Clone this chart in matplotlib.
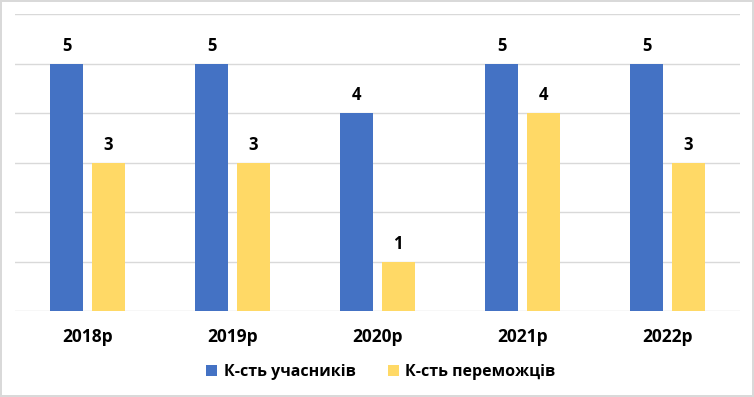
import matplotlib
matplotlib.use("Agg")
import matplotlib.pyplot as plt
import numpy as np

categories = ["2018р", "2019р", "2020р", "2021р", "2022р"]
participants = [5, 5, 4, 5, 5]
winners = [3, 3, 1, 4, 3]
series_names = ["К-сть учасників", "К-сть переможців"]

plt.rcParams['font.family'] = ['Open Sans', 'DejaVu Sans']

fig = plt.figure(figsize=(7.54, 3.97), dpi=100)
fig.patch.set_facecolor("white")
fig.patch.set_edgecolor("#D9D9D9")
fig.patch.set_linewidth(1.5)
ax = fig.add_axes([0.0199, 0.2166, 0.9615, 0.7469])

x = np.arange(len(categories))
w = 0.228
off = 0.143
b1 = ax.bar(x - off, participants, w, color="#4472C4", label=series_names[0], zorder=3)
b2 = ax.bar(x + off, winners, w, color="#FFD966", label=series_names[1], zorder=3)

for bars in (b1, b2):
    for r in bars:
        ax.annotate(f"{int(r.get_height())}", (r.get_x() + r.get_width() / 2, r.get_height()),
                    xytext=(0, 6.5), textcoords="offset points", ha="center", va="bottom",
                    fontsize=12, fontweight="bold", color="#000000")

ax.set_xlim(-0.5, len(categories) - 0.5)
ax.set_ylim(0, 6)
ax.set_yticks(range(0, 7))
ax.yaxis.grid(True, color="#D9D9D9", linewidth=1, zorder=0)
ax.tick_params(axis="y", left=False, labelleft=False)
ax.tick_params(axis="x", bottom=False, pad=9)
ax.set_xticks(x)
ax.set_xticklabels(categories, fontsize=12.5, fontweight="bold")
for s in ax.spines.values():
    s.set_visible(False)

fig.legend(handles=[b1, b2], labels=series_names, loc="center", bbox_to_anchor=(0.505, 0.063),
           ncol=2, frameon=False, prop={"size": 11.5, "weight": "bold"},
           handlelength=0.7, handleheight=0.7, handletextpad=0.4, columnspacing=2.0)

fig.savefig("out.png", dpi=100)
